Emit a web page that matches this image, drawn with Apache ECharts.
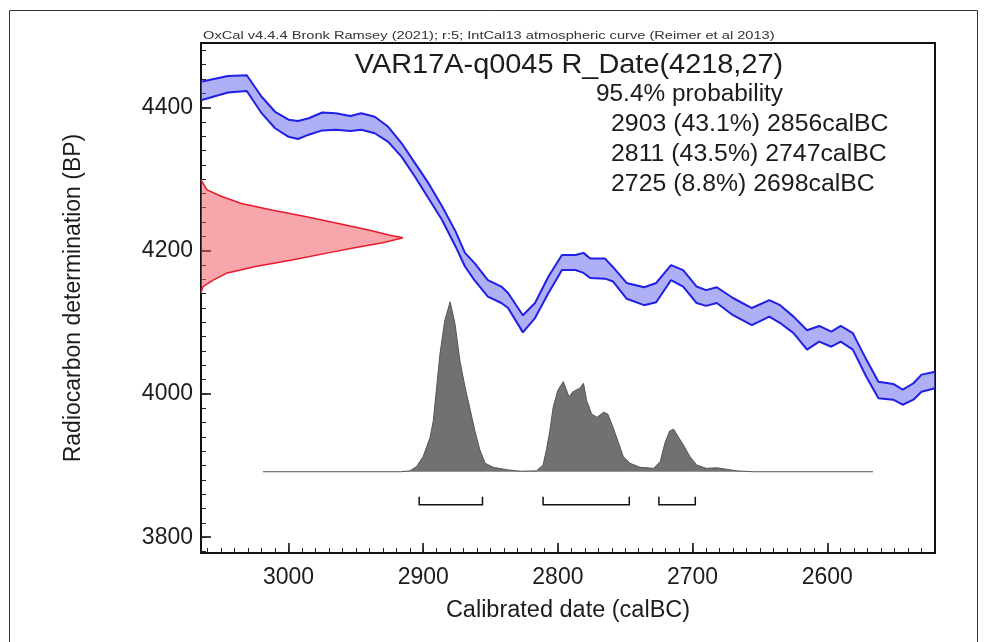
<!DOCTYPE html>
<html><head><meta charset="utf-8">
<script src="https://cdn.jsdelivr.net/npm/echarts@6/dist/echarts.min.js"></script>
<style>html,body{margin:0;padding:0;background:#fff}#c{width:986px;height:642px}</style>
</head><body><div id="c"></div>
<script>
// IntCal13 calibration curve band (calBC, upper BP, lower BP)
const curveBC    = [3065, 3045, 3031, 3020, 3010, 3000, 2993, 2985, 2975, 2965, 2954, 2946, 2936, 2926, 2916, 2906, 2896, 2886, 2876, 2869, 2862, 2852, 2842, 2837, 2826, 2817, 2807, 2797, 2787, 2781, 2776, 2765, 2759, 2749, 2736, 2727, 2716, 2707, 2697, 2690, 2682, 2670, 2656, 2643, 2635, 2625, 2615, 2606, 2597, 2590, 2581, 2571, 2562, 2551, 2544, 2536, 2530, 2520];
const curveUpper = [4436, 4444, 4445, 4415, 4394, 4383, 4381, 4385, 4393, 4392, 4388, 4392, 4387, 4373, 4350, 4322, 4294, 4262, 4227, 4197, 4183, 4159, 4150, 4141, 4110, 4127, 4164, 4194, 4194, 4197, 4189, 4189, 4177, 4155, 4149, 4155, 4180, 4173, 4150, 4145, 4149, 4134, 4120, 4131, 4124, 4108, 4089, 4095, 4087, 4095, 4085, 4048, 4017, 4014, 4006, 4015, 4027, 4031];
const curveLower = [4410, 4421, 4423, 4392, 4371, 4359, 4356, 4362, 4368, 4369, 4367, 4369, 4364, 4352, 4331, 4303, 4273, 4243, 4206, 4178, 4159, 4136, 4127, 4120, 4086, 4106, 4141, 4173, 4173, 4169, 4162, 4161, 4157, 4133, 4124, 4128, 4159, 4150, 4127, 4123, 4127, 4110, 4096, 4108, 4099, 4085, 4062, 4073, 4066, 4073, 4062, 4024, 3994, 3992, 3985, 3992, 4003, 4008];

// Radiocarbon measurement likelihood R_Date(4218,27): BP vs relative density
const likelihoodBP      = [4299, 4285, 4276, 4266, 4257, 4248, 4238, 4229, 4222, 4218, 4211, 4204, 4197, 4187, 4178, 4169, 4159, 4150, 4141];
const likelihoodDensity = [0, 0.03, 0.10, 0.20, 0.35, 0.51, 0.68, 0.83, 0.93, 1.0, 0.90, 0.76, 0.63, 0.45, 0.27, 0.13, 0.06, 0.01, 0];

// Calibrated probability distribution: calBC vs relative density
const posteriorBC      = [3019, 2917, 2910, 2905, 2900, 2895, 2892.5, 2890, 2887.6, 2884, 2880, 2876.4, 2872.7, 2869, 2865, 2861.6, 2858, 2854, 2848, 2838, 2828, 2816, 2811, 2808.5, 2806, 2803.5, 2800, 2796, 2791.7, 2789, 2784, 2781, 2778.7, 2775, 2771, 2766, 2763, 2759, 2755, 2751.5, 2746.5, 2739, 2729, 2724, 2720.5, 2717, 2714, 2711, 2707, 2702, 2697, 2690, 2682, 2675, 2667, 2655, 2566];
const posteriorDensity = [0, 0, 0.005, 0.03, 0.09, 0.2, 0.3, 0.5, 0.69, 0.89, 1.0, 0.87, 0.65, 0.5, 0.36, 0.24, 0.13, 0.05, 0.026, 0.012, 0.003, 0.005, 0.04, 0.13, 0.24, 0.38, 0.48, 0.53, 0.44, 0.47, 0.49, 0.52, 0.42, 0.34, 0.32, 0.35, 0.34, 0.26, 0.17, 0.09, 0.05, 0.026, 0.02, 0.06, 0.17, 0.24, 0.25, 0.21, 0.16, 0.09, 0.04, 0.02, 0.023, 0.015, 0.005, 0, 0];

// 95.4% ranges
const rangeStart = [2903, 2811, 2725];
const rangeEnd   = [2856, 2747, 2698];
const rangePct   = ['43.1%', '43.5%', '8.8%'];

const xTickValues = [3000, 2900, 2800, 2700, 2600];
const yTickValues = [3800, 4000, 4200, 4400];

const titleText = 'VAR17A-q0045 R_Date(4218,27)';
const creditText = 'OxCal v4.4.4 Bronk Ramsey (2021); r:5; IntCal13 atmospheric curve (Reimer et al 2013)';
const probText = '95.4% probability';

const X_MIN = 2520, X_MAX = 3065, Y_MIN = 3778, Y_MAX = 4490;
const xMinor = []; for (let v = 2530; v <= 3060; v += 10) xMinor.push(v);
const yMinor = []; for (let v = 3780; v <= 4480; v += 20) yMinor.push(v);

const FONT = '"Liberation Sans", Arial, Helvetica, sans-serif';
const TXT = '#1c1c1c';

const chart = echarts.init(document.getElementById('c'), null, {renderer: 'canvas'});

const statLines = rangeStart.map((s, i) => `${s} (${rangePct[i]}) ${rangeEnd[i]}calBC`);
const plain = v => String(v);

const option = {
  animation: false,
  backgroundColor: '#fff',
  textStyle: {fontFamily: FONT},
  grid: {left: 201, right: 51, top: 43, bottom: 89, show: true, borderColor: '#111', borderWidth: 2, containLabel: false, outerBoundsMode: 'none'},
  xAxis: [
    {type: 'value', inverse: true, min: X_MIN, max: X_MAX, position: 'bottom',
     axisLine: {show: true, onZero: false, lineStyle: {color: '#111', width: 2}},
     axisTick: {show: true, inside: true, length: 10, customValues: xTickValues, lineStyle: {color: '#111', width: 1.6}},
     axisLabel: {show: true, customValues: xTickValues, formatter: plain, fontSize: 23, color: TXT, margin: 13, fontFamily: FONT},
     splitLine: {show: false},
     name: 'Calibrated date (calBC)', nameLocation: 'middle', nameGap: 46,
     nameTextStyle: {fontSize: 23.5, color: TXT, fontFamily: FONT}},
    {type: 'value', inverse: true, min: X_MIN, max: X_MAX, position: 'bottom',
     axisLine: {show: false, onZero: false},
     axisTick: {show: true, inside: true, length: 5, customValues: xMinor, lineStyle: {color: '#222', width: 1}},
     axisLabel: {show: false}, splitLine: {show: false}},
    {type: 'value', min: 0, max: 3.634, show: false, position: 'top', axisLine: {onZero: false}}
  ],
  yAxis: [
    {type: 'value', min: Y_MIN, max: Y_MAX, position: 'left',
     axisLine: {show: true, onZero: false, lineStyle: {color: '#111', width: 2}},
     axisTick: {show: true, inside: true, length: 10, customValues: yTickValues, lineStyle: {color: '#111', width: 1.6}},
     axisLabel: {show: true, customValues: yTickValues, formatter: plain, fontSize: 23, color: TXT, margin: 8, fontFamily: FONT},
     splitLine: {show: false},
     name: 'Radiocarbon determination (BP)', nameLocation: 'middle', nameGap: 116,
     nameTextStyle: {fontSize: 23, color: TXT, fontFamily: FONT}},
    {type: 'value', min: -0.478, max: 2.522, show: false, position: 'right', axisLine: {onZero: false}},
    {type: 'value', min: Y_MIN, max: Y_MAX, position: 'left',
     axisLine: {show: false, onZero: false},
     axisTick: {show: true, inside: true, length: 5, customValues: yMinor, lineStyle: {color: '#222', width: 1}},
     axisLabel: {show: false}, splitLine: {show: false}}
  ],
  graphic: [
    {type: 'rect', silent: true, z: 0, shape: {x: 9.5, y: 10.5, width: 968, height: 700}, style: {fill: 'none', stroke: '#333', lineWidth: 1}},
    {type: 'text', z: 100, x: 203, y: 36, scaleX: 1.33, style: {text: creditText, textAlign: 'left', textVerticalAlign: 'middle', fill: '#333', font: '11px ' + FONT}},
    {type: 'text', z: 100, x: 569, y: 66, scaleX: 1.07, style: {text: titleText, textAlign: 'center', textVerticalAlign: 'middle', fill: TXT, font: '27px ' + FONT}},
    {type: 'text', z: 100, x: 596, y: 95, scaleX: 1.06, style: {text: probText, textAlign: 'left', textVerticalAlign: 'middle', fill: TXT, font: '23px ' + FONT}},
    ...statLines.map((t, i) => ({type: 'text', z: 100, x: 611, y: 125 + i * 30, scaleX: 1.08, style: {text: t, textAlign: 'left', textVerticalAlign: 'middle', fill: TXT, font: '23px ' + FONT}}))
  ],
  series: [
    {type: 'custom', name: 'curve band', xAxisIndex: 0, yAxisIndex: 0, z: 2, silent: true,
     data: [[2800, 4200]],
     renderItem: function (params, api) {
       const pts = [];
       for (let i = 0; i < curveBC.length; i++) pts.push(api.coord([curveBC[i], curveUpper[i]]));
       for (let i = curveBC.length - 1; i >= 0; i--) pts.push(api.coord([curveBC[i], curveLower[i]]));
       return {type: 'polygon', shape: {points: pts}, style: {fill: 'rgba(95,95,235,0.5)', stroke: null}};
     }},
    {type: 'line', name: 'upper', xAxisIndex: 0, yAxisIndex: 0, z: 3, symbol: 'none', silent: true,
     data: curveBC.map((b, i) => [b, curveUpper[i]]), lineStyle: {color: '#1f1fe6', width: 2}},
    {type: 'line', name: 'lower', xAxisIndex: 0, yAxisIndex: 0, z: 3, symbol: 'none', silent: true,
     data: curveBC.map((b, i) => [b, curveLower[i]]), lineStyle: {color: '#1f1fe6', width: 2}},
    {type: 'custom', name: 'likelihood fill', xAxisIndex: 2, yAxisIndex: 0, z: 2, silent: true,
     data: [[0.5, 4218]],
     renderItem: function (params, api) {
       const pts = likelihoodBP.map((b, i) => api.coord([likelihoodDensity[i], b]));
       return {type: 'polygon', shape: {points: pts}, style: {fill: 'rgba(240,80,90,0.5)', stroke: null}};
     }},
    {type: 'line', name: 'likelihood', xAxisIndex: 2, yAxisIndex: 0, z: 3, symbol: 'none', silent: true,
     data: likelihoodBP.map((b, i) => [likelihoodDensity[i], b]), lineStyle: {color: '#e8192c', width: 1.5}},
    {type: 'line', name: 'posterior', xAxisIndex: 0, yAxisIndex: 1, z: 2, symbol: 'none', silent: true,
     data: posteriorBC.map((b, i) => [b, posteriorDensity[i]]),
     lineStyle: {color: '#555', width: 1}, areaStyle: {color: '#717171', opacity: 1, origin: 0}},
    {type: 'custom', name: 'ranges', xAxisIndex: 0, yAxisIndex: 1, z: 3, silent: true,
     data: rangeStart.map((s, i) => [s, rangeEnd[i]]),
     renderItem: function (params, api) {
       const a = api.coord([api.value(0), 0]);
       const b = api.coord([api.value(1), 0]);
       const y = a[1] + 33;
       return {type: 'polyline', shape: {points: [[a[0], y - 8], [a[0], y], [b[0], y], [b[0], y - 8]]},
               style: {stroke: '#111', lineWidth: 1.5, fill: null}};
     }}
  ]
};
chart.setOption(option);
</script></body></html>
